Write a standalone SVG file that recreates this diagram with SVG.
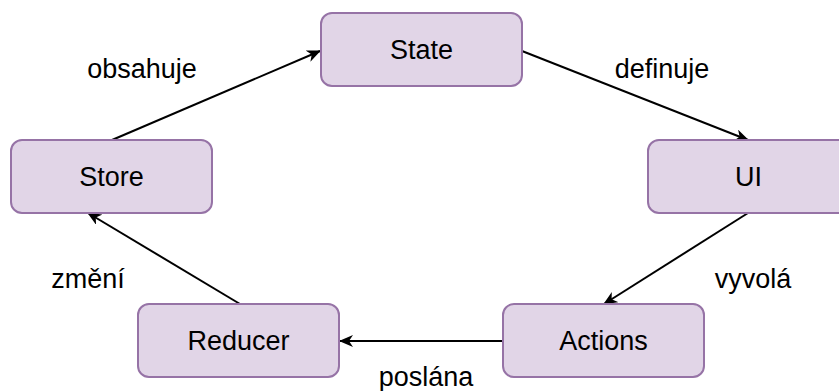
<svg xmlns="http://www.w3.org/2000/svg" width="839" height="391" viewBox="0 0 839 391">
  <style>
    .node rect { fill: #e1d5e7; stroke: #9673a6; stroke-width: 2; }
    text { font-family: "Liberation Sans", Arial, sans-serif; font-size: 27px; fill: #000; }
    .node text { text-anchor: middle; }
    .label { text-anchor: middle; }
    .edge { stroke: #000; stroke-width: 2; fill: none; marker-end: url(#arrow); }
  </style>
  <defs>
    <marker id="arrow" viewBox="0 0 14 12" refX="13" refY="6" markerWidth="14" markerHeight="12" markerUnits="userSpaceOnUse" orient="auto">
      <path d="M0,0 L14,6 L0,12 L4,6 z" fill="#000"/>
    </marker>
  </defs>

  <g id="connectors">
    <line class="edge" x1="112" y1="140" x2="320" y2="51"/>
    <line class="edge" x1="522" y1="51" x2="748" y2="140"/>
    <line class="edge" x1="748" y1="213" x2="604" y2="304"/>
    <line class="edge" x1="503" y1="341" x2="340" y2="341"/>
    <line class="edge" x1="240" y1="304" x2="88" y2="213"/>
  </g>

  <g id="labels">
    <text class="label" x="142" y="78">obsahuje</text>
    <text class="label" x="662" y="78">definuje</text>
    <text class="label" x="753" y="288">vyvolá</text>
    <text class="label" x="426" y="386">poslána</text>
    <text class="label" x="88" y="288">změní</text>
  </g>

  <g id="state" class="node">
    <rect x="321" y="13" width="201" height="73" rx="11"/>
    <text x="421.5" y="59">State</text>
  </g>
  <g id="ui" class="node">
    <rect x="648" y="140" width="201" height="73" rx="11"/>
    <text x="748.5" y="186">UI</text>
  </g>
  <g id="store" class="node">
    <rect x="11" y="140" width="201" height="73" rx="11"/>
    <text x="111.5" y="186">Store</text>
  </g>
  <g id="reducer" class="node">
    <rect x="138" y="304" width="201" height="73" rx="11"/>
    <text x="238.5" y="350">Reducer</text>
  </g>
  <g id="actions" class="node">
    <rect x="503" y="304" width="201" height="73" rx="11"/>
    <text x="603.5" y="350">Actions</text>
  </g>
</svg>
